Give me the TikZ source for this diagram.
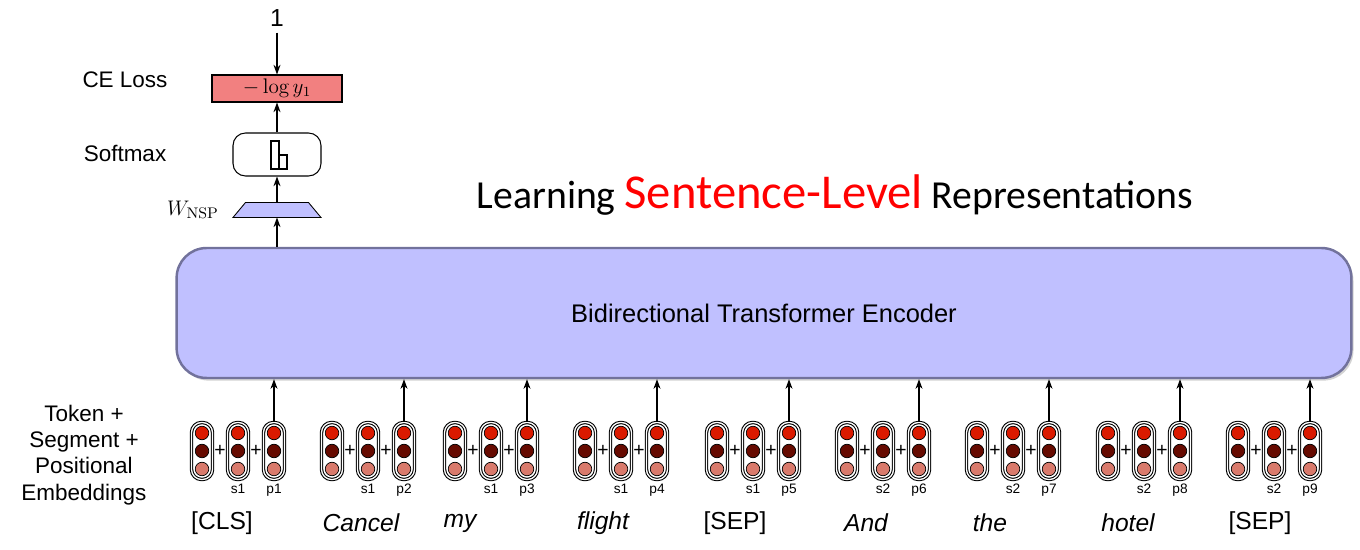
\documentclass[tikz,border=0pt]{standalone}
\usepackage{fontspec}
\newfontfamily\lsans{Liberation Sans}
\newfontfamily\calib{Carlito}
\usetikzlibrary{positioning, arrows.meta, shadows, calc}
\usepackage{xcolor}

\definecolor{encfill}{HTML}{C0C0FF}
\definecolor{encdraw}{HTML}{72729C}
\definecolor{lossred}{HTML}{F28080}
\definecolor{dotred}{HTML}{DA1A00}
\definecolor{dotdark}{HTML}{660A00}
\definecolor{dotpink}{HTML}{D97A6C}
\definecolor{titlered}{HTML}{FF0000}

\tikzset{
  lbl/.style={font=\lsans\fontsize{12.8}{15}\selectfont, align=center},
  word/.style={font=\lsans\fontsize{14}{16}\selectfont},
  tiny/.style={font=\lsans\fontsize{7.8}{8}\selectfont, inner sep=1pt},
  plus/.style={font=\lsans\fontsize{11}{12}\selectfont, inner sep=0pt},
  pill/.style={draw, double=white, double distance=0.75pt, line width=0.6pt,
    rounded corners=0.2cm, minimum width=0.42cm, minimum height=1.14cm,
    inner sep=0pt, fill=white},
  dot/.style={circle, draw, line width=0.4pt, minimum size=0.27cm, inner sep=0pt},
  arr/.style={-{Stealth[length=5.5pt, width=4pt]}, line width=0.6pt},
}

\begin{document}
\begin{tikzpicture}[x=0.02cm, y=-0.02cm]
  \useasboundingbox (0,0) rectangle (1360,550);

  % encoder
  \node[draw=encdraw, line width=1.4pt, fill=encfill, rounded corners=0.6cm,
    minimum width=23.5cm, minimum height=2.6cm,
    drop shadow={shadow xshift=1.2pt, shadow yshift=-1.5pt, opacity=0.35},
    font=\lsans\fontsize{14.5}{16}\selectfont] (enc) at (764,313) {Bidirectional Transformer Encoder};

  % NSP head
  \node[minimum width=1.76cm, minimum height=0.3cm, inner sep=0pt, outer sep=0pt] (wnsp) at (277,210) {};
  \draw[fill=encfill, line width=0.5pt] (wnsp.south west) -- (wnsp.south east)
    -- ([xshift=-0.25cm]wnsp.north east) -- ([xshift=0.25cm]wnsp.north west) -- cycle;
  \node[draw, rounded corners=0.25cm, minimum width=1.76cm, minimum height=0.86cm, line width=0.6pt] (smax) at (277,154.5) {};
  \draw[line width=0.6pt] (271,141) rectangle (279,169);
  \draw[line width=0.6pt] (279,155) rectangle (287,169);
  \node[draw, fill=lossred, minimum width=2.6cm, minimum height=0.54cm, inner sep=0pt, line width=0.6pt,
    font=\fontsize{12}{14}\selectfont] (loss) at (277,88.5) {$-\log y_1$};
  \node[word] (one) at (277,18) {1};

  \node[lbl] (losslbl) at (125,80) {CE Loss};
  \node[lbl] (smaxlbl) at (125,153) {Softmax};
  \node[font=\fontsize{12.5}{14}\selectfont, left=0.16cm of wnsp] (wlbl) {$W_{\mathrm{NSP}}$};

  \draw[arr] (one) -- (loss);
  \draw[arr] (smax) -- (loss);
  \draw[arr] (wnsp) -- (smax);
  \draw[arr] (enc.north -| wnsp) -- (wnsp);

  % title
  \node[font=\calib\fontsize{22.6}{26}\selectfont] (title) at (835,195)
    {Learning {\color{titlered}\fontsize{27.7}{30}\selectfont Sentence-Level} Representations};

  % embeddings
  \node[lbl] (emblbl) at (84,455) {Token +\\Segment +\\Positional\\Embeddings};

  \foreach \i/\x/\sg/\wx/\w in {1/274/s1/222/{[CLS]}, 2/404/s1/361/{\itshape Cancel},
      3/527/s1/460/{\itshape my}, 4/657/s1/603/{\itshape flight}, 5/789/s1/735/{[SEP]},
      6/919/s2/866/{\itshape And}, 7/1049/s2/990/{\itshape the},
      8/1180/s2/1128/{\itshape hotel}, 9/1310/s2/1260/{[SEP]}} {
    \node[pill] (pos\i) at (\x,451) {};
    \node[pill] (seg\i) at ([xshift=-0.72cm]pos\i.center) {};
    \node[pill] (tok\i) at ([xshift=-0.72cm]seg\i.center) {};
    \foreach \e in {tok,seg,pos} {
      \node[dot, fill=dotred] (\e\i-a) at ([yshift=0.36cm]\e\i.center) {};
      \node[dot, fill=dotdark] (\e\i-b) at (\e\i.center) {};
      \node[dot, fill=dotpink] (\e\i-c) at ([yshift=-0.36cm]\e\i.center) {};
    }
    \node[plus] (plA\i) at ($(tok\i)!0.5!(seg\i)$) {+};
    \node[plus] (plB\i) at ($(seg\i)!0.5!(pos\i)$) {+};
    \node[tiny, below=1pt of seg\i] (sl\i) {\sg};
    \node[tiny, below=1pt of pos\i] (pl\i) {p\i};
    \node[word] (w\i) at (\wx,523) {\w};
    \draw[arr] (pos\i) -- (pos\i |- enc.south);
  }
\end{tikzpicture}
\end{document}
